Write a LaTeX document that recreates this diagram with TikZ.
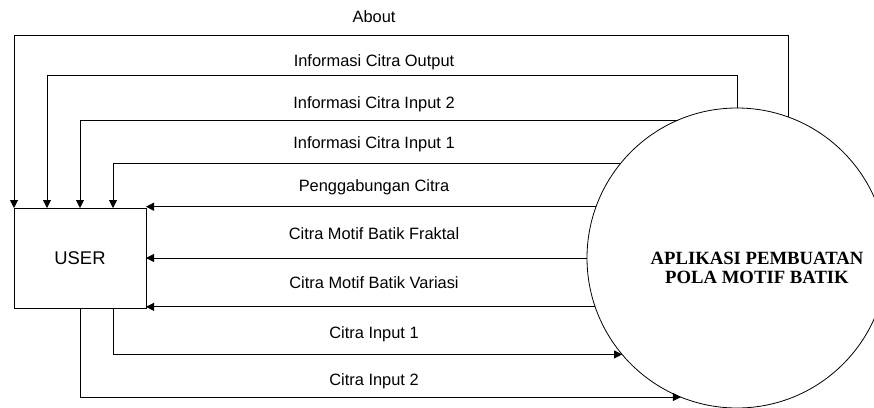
\documentclass[tikz,border=0pt]{standalone}
\usepackage{fontspec}
\setmainfont{Liberation Sans}
\newfontfamily\serifbold{Liberation Serif}
\usepackage{tikz}
\usetikzlibrary{arrows.meta,shapes}
\tikzstyle{entity}=[rectangle,draw,line width=0.8pt,minimum width=132pt,minimum height=100pt,inner sep=0pt,outer sep=0pt,font=\fontsize{18.4}{20}\selectfont]
\tikzstyle{process}=[circle,draw,line width=0.8pt,minimum size=300pt,inner sep=0pt,outer sep=0pt]
\tikzstyle{proc text}=[align=center,inner sep=0pt,font=\serifbold\bfseries\fontsize{18.7}{18.5}\selectfont]
\tikzstyle{flow label}=[anchor=base,inner sep=0pt,font=\fontsize{16.4}{18}\selectfont]
\tikzstyle{flow} = [draw,line width=0.8pt,-{Triangle[length=8pt,width=8pt]}]

\begin{document}
\begin{tikzpicture}[x=1pt,y=-1pt]
          \useasboundingbox (0,0) rectangle (874,407);
          % external entity and the process
          \node[entity] (user) at (80,258) {USER};
          \node[process] (app) at (737,258) {};
          \node[proc text] (apptext) at (757,268) {APLIKASI PEMBUATAN\\POLA MOTIF BATIK};
          % flows from the process back to the user
          \draw[flow] (app.70) -- ++(0,-82) -| (user.north west);
          \draw[flow] (app.north) -- ++(0,-33) -| ([xshift=-33pt]user.north);
          \draw[flow] (app.113) -| (user.north);
          \draw[flow] (app.141) -| ([xshift=33pt]user.north);
          \draw[flow] (app.160.5) -- (app.160.5 -| user.east);
          \draw[flow] (app.west) -- (user.east);
          \draw[flow] (app.199) -- (app.199 -| user.east);
          % flows from the user into the process
          \draw[flow] ([xshift=33pt]user.south) |- (app.220);
          \draw[flow] (user.south) |- (app.248);
          % labels
          \node[flow label] (lAbout) at (374,22) {About};
          \node[flow label] (lOut) at (374,66) {Informasi Citra Output};
          \node[flow label] (lIn2) at (374,108) {Informasi Citra Input 2};
          \node[flow label] (lIn1) at (374,148) {Informasi Citra Input 1};
          \node[flow label] (lGab) at (374,191) {Penggabungan Citra};
          \node[flow label] (lFrak) at (374,239) {Citra Motif Batik Fraktal};
          \node[flow label] (lVar) at (374,288) {Citra Motif Batik Variasi};
          \node[flow label] (lCI1) at (374,338) {Citra Input 1};
          \node[flow label] (lCI2) at (374,385) {Citra Input 2};
\end{tikzpicture}
\end{document}
